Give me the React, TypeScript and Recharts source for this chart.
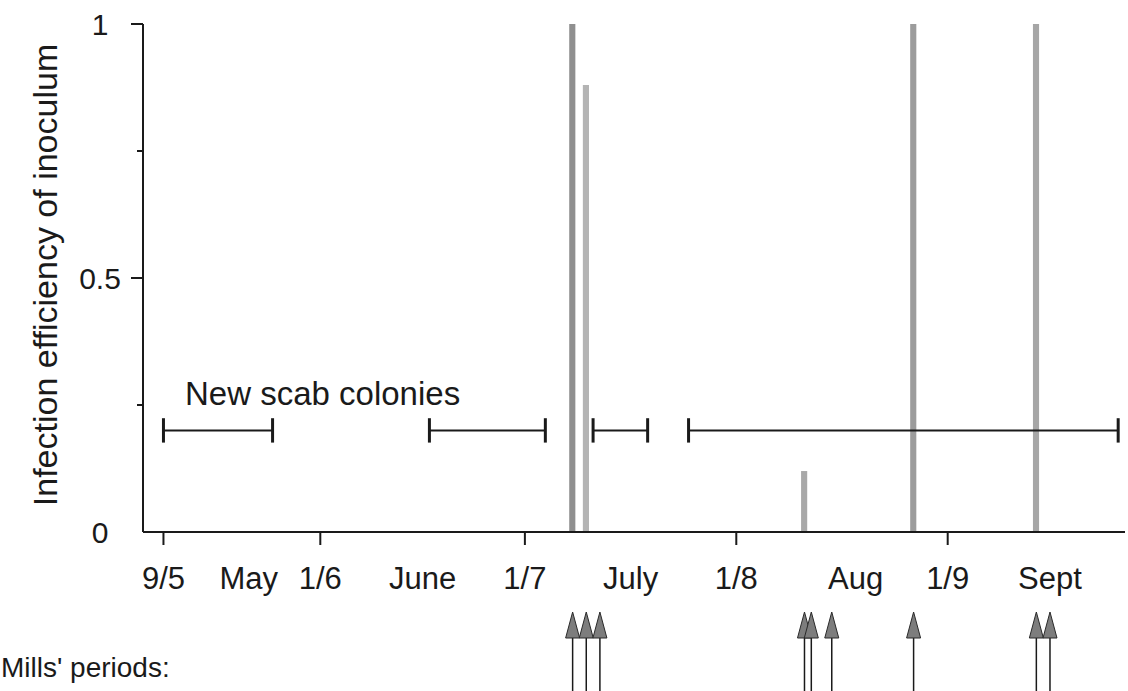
import React from "react";
import {
  Bar,
  Cell,
  ComposedChart,
  ReferenceLine,
  Scatter,
  XAxis,
  YAxis,
} from "recharts";

// day of year (9/5 = 129, 1/6 = 152, 1/7 = 182, 1/8 = 213, 1/9 = 244)
const tickDays = [129, 141.5, 152, 167, 182, 197.5, 213, 230.5, 244, 259];
const tickLabels = ["9/5", "May", "1/6", "June", "1/7", "July", "1/8", "Aug", "1/9", "Sept"];

const yTicks = [0, 0.25, 0.5, 0.75, 1];
const yTickLabels = ["0", "", "0.5", "", "1"];

// infection efficiency of inoculum
const barDays = [189, 191, 223, 239, 257];
const barValues = [1, 0.88, 0.12, 1, 1];
const barColors = ["#8f8f8f", "#b4b4b4", "#a8a8a8", "#9c9c9c", "#a6a6a6"];

// new scab colonies
const colonyStart = [129, 168, 192, 206];
const colonyEnd = [145, 185, 200, 269];
const colonyLevel = 0.2;

// Mills' periods
const millsDays = [189, 191, 193, 223, 224, 227, 239, 257, 259];

const barData = barDays.map((d, i) => ({ x: d, v: barValues[i] }));
const millsData = millsDays.map((d) => ({ x: d, y: 0 }));

const font = '"Liberation Sans", Arial, Helvetica, sans-serif';
const ink = "#1a1a1a";

function XTick(props: any) {
  const { x, y, payload } = props;
  const i = tickDays.indexOf(payload.value);
  const label = tickLabels[i] ?? "";
  const isDate = label.includes("/");
  return (
    <g>
      {isDate && <line x1={x} x2={x} y1={y} y2={y + 13} stroke={ink} strokeWidth={2} />}
      <text x={x} y={y + 57} textAnchor="middle" fontSize={31} fontFamily={font} fill={ink}>
        {label}
      </text>
    </g>
  );
}

function YTick(props: any) {
  const { x, y, payload } = props;
  const i = yTicks.indexOf(payload.value);
  const label = yTickLabels[i] ?? "";
  const len = label ? 12 : 6;
  return (
    <g>
      {payload.value > 0 && <line x1={x - len} x2={x} y1={y} y2={y} stroke={ink} strokeWidth={2} />}
      {label && (
        <text x={100} y={y} dy="0.36em" textAnchor="middle" fontSize={30} fontFamily={font} fill={ink}>
          {label}
        </text>
      )}
    </g>
  );
}

function Arrow(props: any) {
  const { cx, cy } = props;
  const tip = cy + 80;
  const base = tip + 26;
  return (
    <g>
      <line x1={cx} x2={cx} y1={base - 2} y2={cy + 162} stroke={ink} strokeWidth={1.5} />
      <path
        d={`M${cx},${tip} L${cx - 7},${base} L${cx + 7},${base} Z`}
        fill="#7d7d7d"
        stroke="#2a2a2a"
        strokeWidth={1}
      />
    </g>
  );
}

export default function App() {
  return (
    <div style={{ position: "absolute", left: 0, top: 0, width: 1128, height: 691, background: "#fff" }}>
      <ComposedChart
        width={1128}
        height={691}
        data={barData}
        margin={{ top: 24, right: 3, bottom: 99, left: 0 }}
      >
        <XAxis
          type="number"
          dataKey="x"
          domain={[126, 270]}
          ticks={tickDays}
          interval={0}
          tick={<XTick />}
          tickLine={false}
          tickSize={0}
          tickMargin={0}
          height={60}
          axisLine={{ stroke: ink, strokeWidth: 2 }}
        />
        <YAxis
          type="number"
          domain={[0, 1]}
          ticks={yTicks}
          interval={0}
          width={143}
          tick={<YTick />}
          tickLine={false}
          tickSize={0}
          tickMargin={0}
          axisLine={{ stroke: ink, strokeWidth: 2 }}
        />
        {colonyStart.map((s, i) => (
          <ReferenceLine
            key={`c${i}`}
            segment={[
              { x: s, y: colonyLevel },
              { x: colonyEnd[i], y: colonyLevel },
            ]}
            stroke={ink}
            strokeWidth={2}
          />
        ))}
        {colonyStart.map((s, i) => (
          <ReferenceLine
            key={`l${i}`}
            segment={[
              { x: s, y: colonyLevel - 0.024 },
              { x: s, y: colonyLevel + 0.024 },
            ]}
            stroke={ink}
            strokeWidth={3}
          />
        ))}
        {colonyEnd.map((e, i) => (
          <ReferenceLine
            key={`r${i}`}
            segment={[
              { x: e, y: colonyLevel - 0.024 },
              { x: e, y: colonyLevel + 0.024 },
            ]}
            stroke={ink}
            strokeWidth={3}
          />
        ))}
        <Bar dataKey="v" barSize={7} isAnimationActive={false}>
          {barData.map((_, i) => (
            <Cell key={i} fill={barColors[i]} />
          ))}
        </Bar>
        <Scatter data={millsData} dataKey="y" shape={<Arrow />} isAnimationActive={false} />
      </ComposedChart>
      <div
        style={{
          position: "absolute",
          left: 45,
          top: 275,
          transform: "translate(-50%, -50%) rotate(-90deg)",
          whiteSpace: "nowrap",
          fontFamily: font,
          fontSize: 34,
          lineHeight: 1,
          color: ink,
        }}
      >
        Infection efficiency of inoculum
      </div>
      <div
        style={{
          position: "absolute",
          left: 185,
          top: 377,
          whiteSpace: "nowrap",
          fontFamily: font,
          fontSize: 33,
          lineHeight: 1,
          color: ink,
        }}
      >
        New scab colonies
      </div>
      <div
        style={{
          position: "absolute",
          left: 1,
          top: 654,
          whiteSpace: "nowrap",
          fontFamily: font,
          fontSize: 28,
          lineHeight: 1,
          color: ink,
        }}
      >
        Mills' periods:
      </div>
    </div>
  );
}
